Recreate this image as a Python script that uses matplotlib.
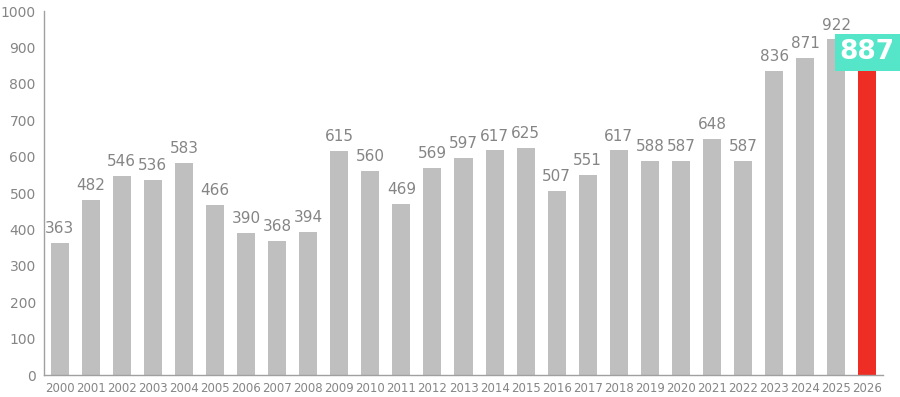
import matplotlib.pyplot as plt

years = [str(y) for y in range(2000, 2027)]
values = [363, 482, 546, 536, 583, 466, 390, 368, 394, 615, 560, 469, 569, 597,
          617, 625, 507, 551, 617, 588, 587, 648, 587, 836, 871, 922, 887]

gray = '#bfbfbf'
red = '#ee2e24'
teal = '#55e6c9'
text_gray = '#858585'

fig = plt.figure(figsize=(9, 3.97), dpi=100)
ax = fig.add_axes([0.049, 0.0554, 0.932, 0.9166])

colors = [gray] * (len(values) - 1) + [red]
x = range(len(values))
bars = ax.bar(x, values, width=0.58, color=colors)

# value labels above the gray bars
for i, v in enumerate(values[:-1]):
    ax.annotate(str(v), (i, v), xytext=(0, 5), textcoords='offset points',
                ha='center', va='bottom', fontsize=11, color=text_gray)

# highlighted current value
ax.text(len(values) - 1, values[-1], str(values[-1]), ha='center', va='center',
        fontsize=19, fontweight='bold', color='white', clip_on=False,
        bbox=dict(boxstyle='square,pad=0.2', facecolor=teal, edgecolor='none'))

ax.set_xlim(-0.5, len(values) - 0.5)
ax.set_ylim(0, 1000)
ax.set_yticks(range(0, 1001, 100))
ax.set_xticks(list(x))
ax.set_xticklabels(years)
ax.tick_params(axis='x', length=0, labelsize=8.5, colors=text_gray, pad=5)
ax.tick_params(axis='y', length=0, labelsize=10, colors=text_gray, pad=6)

for side in ['top', 'right']:
    ax.spines[side].set_visible(False)
for side in ['left', 'bottom']:
    ax.spines[side].set_color('#a0a0a0')
    ax.spines[side].set_linewidth(1)

fig.savefig('out.png', dpi=100)
